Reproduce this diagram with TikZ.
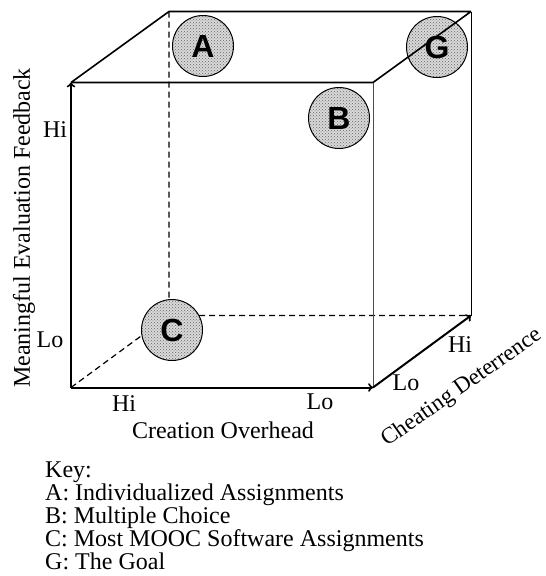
\documentclass[tikz,border=0pt]{standalone}
\usepackage{fontspec}
\setmainfont{Liberation Serif}
\setsansfont{Liberation Sans}
\usetikzlibrary{patterns}

\begin{document}
\begin{tikzpicture}[x=1pt,y=-1pt]
	\tikzset{
	dot/.style={circle,draw,line width=1pt,minimum size=61pt,inner sep=0pt,preaction={fill=gray!30},pattern=crosshatch dots,pattern color=black!60,font=\fontsize{32}{32}\sffamily\bfseries},
	lbl/.style={inner sep=0pt,font=\fontsize{24}{24}\selectfont},
	axis/.style={line width=2pt,->},
	edge/.style={line width=1.6pt},
	hidden/.style={line width=1.2pt,dash pattern=on 6pt off 4pt}
	}
	\useasboundingbox (0,0) rectangle (546,576);
	% corners of the cube
	\path
	(71,387.5) coordinate (fbl)
	(373,387.5) coordinate (fbr)
	(71,82.5) coordinate (ftl)
	(373,82.5) coordinate (ftr)
	(169,315.5) coordinate (bbl)
	(471,315.5) coordinate (bbr)
	(169,11.5) coordinate (btl)
	(471,11.5) coordinate (btr)
	;
	\draw[hidden]
	(btl)--(bbl)
	(fbl)--(bbl)
	(bbl)--(bbr)
	;
	\path
	(203,46) node[dot](A){A}
	(339,118) node[dot](B){B}
	(172,330) node[dot](C){C}
	(437,47) node[dot](G){G}
	;
	\draw[edge]
	(ftl)--(ftr)
	(ftl)--(btl)--(btr)
	(ftr)--(btr)
	;
	\draw[line width=1pt,black!70] (ftr)--(fbr);
	\draw[line width=1pt] (btr)--(bbr);
	\draw[axis] (fbl)--(ftl);
	\draw[axis] (fbl)--(fbr);
	\draw[axis] (fbr)--(bbr);
	% axis labels
	\path
	(55,130) node[lbl](ehi){Hi}
	(50,340) node[lbl](elo){Lo}
	(124,404) node[lbl](chi){Hi}
	(320,402) node[lbl](clo){Lo}
	(223,430) node[lbl](cname){Creation Overhead}
	(406,383) node[lbl](dlo){Lo}
	(460,345) node[lbl](dhi){Hi}
	(387,447) node[lbl,anchor=base west,rotate=35,font=\fontsize{23}{23}\selectfont](dname){Cheating Deterrence}
	(24,228) node[lbl,rotate=90](ename){Meaningful Evaluation Feedback}
	;
	\path
	(45,462) node[lbl,anchor=north west,align=left,font=\fontsize{24}{23}\selectfont](key){Key:\\
	A: Individualized Assignments\\
	B: Multiple Choice\\
	C: Most MOOC Software Assignments\\
	G: The Goal}
	;
\end{tikzpicture}
\end{document}
